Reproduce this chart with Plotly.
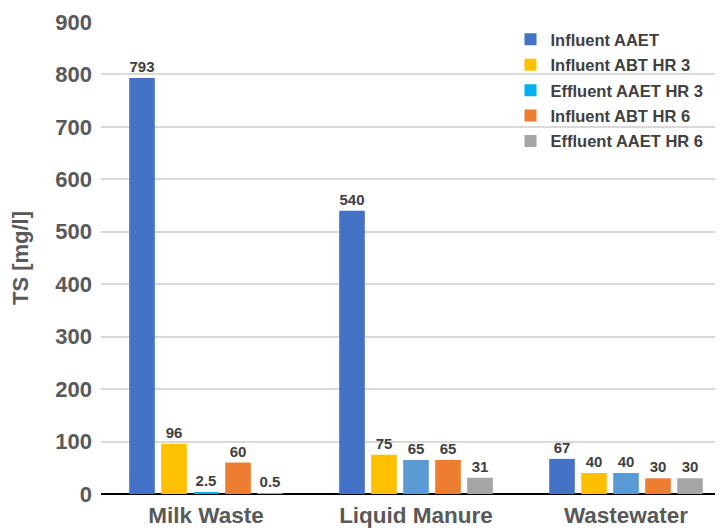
import plotly.graph_objects as go

categories = ["Milk Waste", "Liquid Manure", "Wastewater"]
series_names = ["Influent AAET", "Influent ABT HR 3", "Effluent AAET HR 3",
                "Influent ABT HR 6", "Effluent AAET HR 6"]
influent_aaet = [793, 540, 67]
influent_abt_hr3 = [96, 75, 40]
effluent_aaet_hr3 = [2.5, 65, 40]
influent_abt_hr6 = [60, 65, 30]
effluent_aaet_hr6 = [0.5, 31, 30]
values = [influent_aaet, influent_abt_hr3, effluent_aaet_hr3, influent_abt_hr6, effluent_aaet_hr6]

colors = [
    ["#4472C4"] * 3,
    ["#FFC000"] * 3,
    ["#00B0F0", "#5B9BD5", "#5B9BD5"],
    ["#ED7D31"] * 3,
    ["#A5A5A5"] * 3,
]

fig = go.Figure()
for i, (name, vals) in enumerate(zip(series_names, values)):
    fig.add_trace(go.Bar(
        x=categories, y=vals, name=f"<b>{name}</b>",
        marker=dict(color=colors[i], line=dict(width=0)),
        text=[f"{v:g}" for v in vals], textposition="outside",
        texttemplate="<b>%{text}</b>", constraintext="none",
        textfont=dict(family="Liberation Sans", size=15, color="#404040"),
        cliponaxis=False, legendgroup=name,
    ))

fig.update_layout(
    width=723, height=530,
    margin=dict(l=93, r=0, t=14, b=44),
    paper_bgcolor="white", plot_bgcolor="white",
    barmode="group", bargap=0.238, bargroupgap=0.2,
    font=dict(family="Liberation Sans", color="#595959"),
    legend=dict(x=0.65, y=1.0, xanchor="left", yanchor="top",
                bgcolor="rgba(0,0,0,0)", tracegroupgap=1,
                font=dict(size=16.5, color="#404040", family="Liberation Sans"),
                itemwidth=30),
    xaxis=dict(tickfont=dict(size=22.5, color="#595959"), showline=False,
               ticks="", range=[-0.5, 2.5], ticklabelstandoff=5,
               tickprefix="<b>", ticksuffix="</b>"),
    yaxis=dict(range=[0, 900], dtick=100, showgrid=True, gridcolor="#D9D9D9",
               gridwidth=1.5, zeroline=True, zerolinecolor="#000000", zerolinewidth=2,
               tickfont=dict(size=22, color="#595959"),
               tickprefix="<b>", ticksuffix="</b>",
               ticks="", ticklabelstandoff=8,
               title=dict(text="<b>TS [mg/l]</b>", font=dict(size=22, color="#595959"), standoff=20)),
)

fig.write_html("out.html")
